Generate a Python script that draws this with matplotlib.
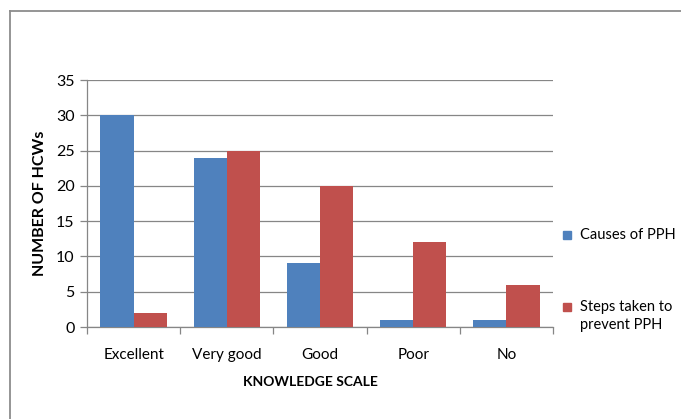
import matplotlib.pyplot as plt
from matplotlib.lines import Line2D
from matplotlib.patches import Rectangle
import numpy as np

plt.rcParams['font.family'] = ['Lato', 'DejaVu Sans']

# Data
categories = ["Excellent", "Very good", "Good", "Poor", "No"]
causes = [30, 24, 9, 1, 1]
steps = [2, 25, 20, 12, 6]
yticks = [0, 5, 10, 15, 20, 25, 30, 35]
series_names = ["Causes of PPH", "Steps taken to\nprevent PPH"]

blue = "#4F81BD"
red = "#C0504D"
grey = "#868686"

fig = plt.figure(figsize=(6.81, 4.19), dpi=100)
ax = fig.add_axes([87 / 681, 1 - 327 / 419, (553 - 87) / 681, (327 - 80) / 419])

x = np.arange(len(categories))
w = 0.357
ax.bar(x - w / 2, causes, w, color=blue, zorder=3)
ax.bar(x + w / 2, steps, w, color=red, zorder=3)

ax.set_xlim(-0.5, len(categories) - 0.5)
ax.set_ylim(0, 35)
ax.set_yticks(yticks)
ax.yaxis.grid(True, color=grey, linewidth=0.9, zorder=0)

# category boundary ticks below the axis
ax.set_xticks(np.arange(-0.5, len(categories)), minor=True)
ax.set_xticks(x)
ax.set_xticklabels(categories, fontsize=11)
ax.tick_params(axis="x", which="major", length=0, pad=15)
ax.tick_params(axis="x", which="minor", length=5, color=grey, width=0.9)
ax.tick_params(axis="y", length=5, color=grey, width=0.9, labelsize=11.5, pad=4)

for s in ["top", "right"]:
    ax.spines[s].set_visible(False)
for s in ["left", "bottom"]:
    ax.spines[s].set_color(grey)
    ax.spines[s].set_linewidth(0.9)

ax.set_ylabel("NUMBER OF HCWs", fontsize=11.5, fontweight="bold", labelpad=6)
fig.text(310 / 681, 1 - 382 / 419, "KNOWLEDGE SCALE", fontsize=10,
         fontweight="bold", ha="center", va="center")

# legend, square aligned with the first line of each label
for name, col, ypix in zip(series_names, [blue, red], [235, 307]):
    fig.add_artist(Rectangle((563 / 681, 1 - (ypix + 4) / 419), 8 / 681, 8 / 419,
                             transform=fig.transFigure, color=col))
    fig.text(580 / 681, 1 - (ypix - 7) / 419, name, fontsize=10.5,
             ha="left", va="top", linespacing=1.35)

# outer frame (top and left edges visible)
fig.add_artist(Line2D([10 / 681, 1], [1 - 11 / 419, 1 - 11 / 419],
                      transform=fig.transFigure, color="#8c8c8c", linewidth=1.3))
fig.add_artist(Line2D([10 / 681, 10 / 681], [0, 1 - 11 / 419],
                      transform=fig.transFigure, color="#8c8c8c", linewidth=1.3))

fig.savefig("out.png", dpi=100)
